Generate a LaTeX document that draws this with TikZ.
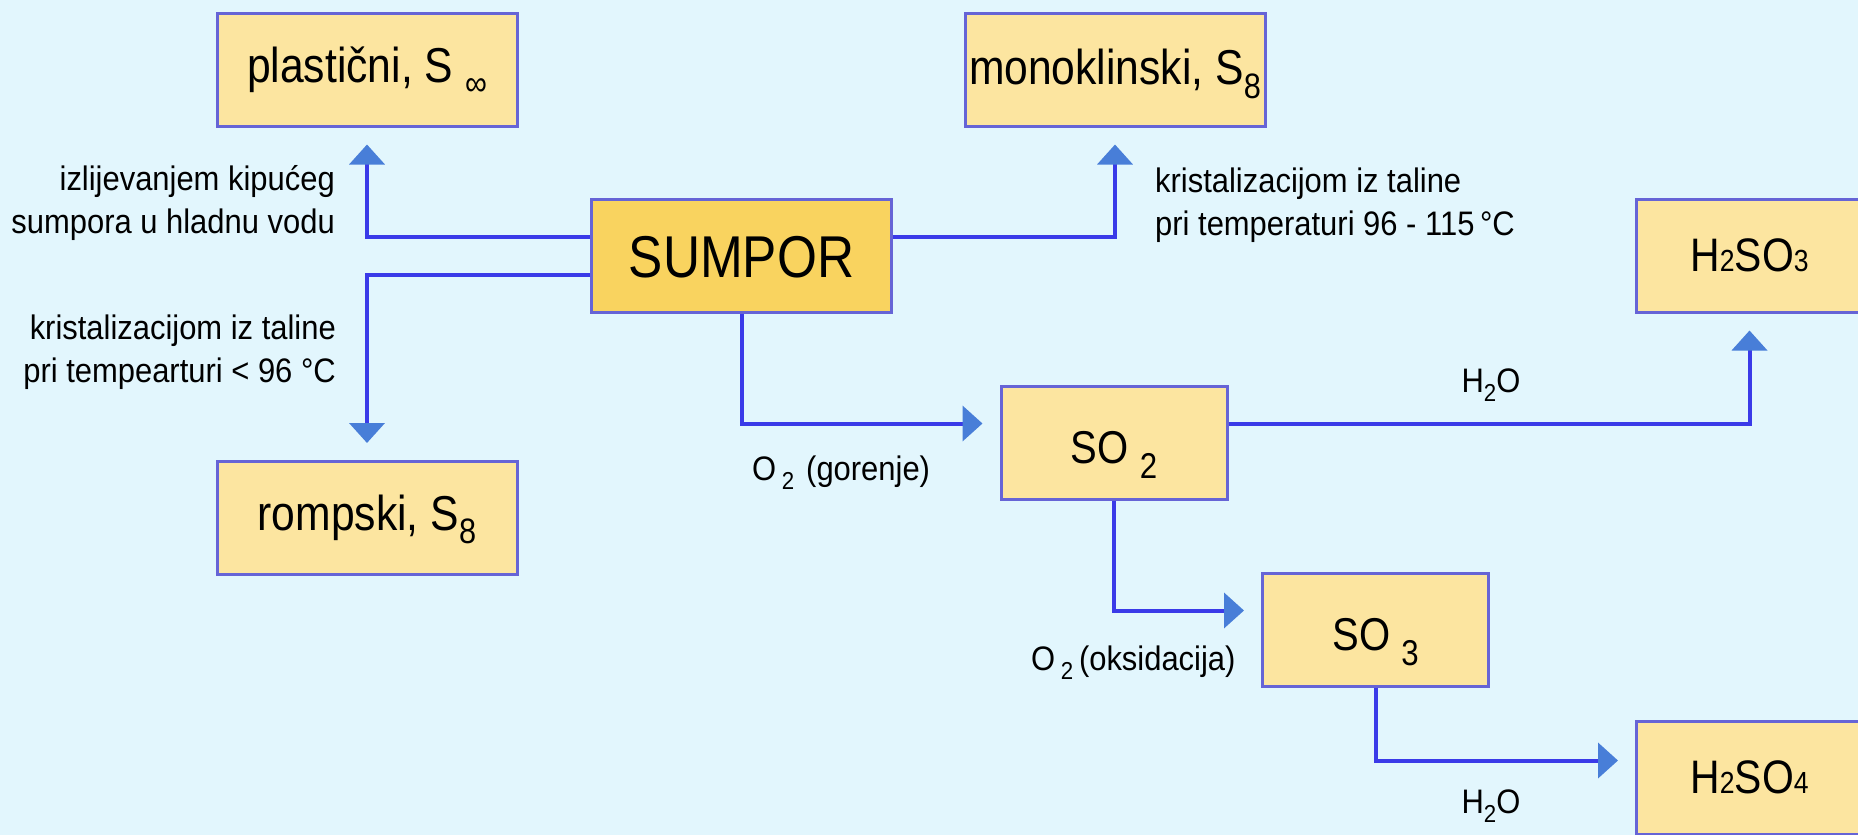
\documentclass[tikz,border=0pt]{standalone}
\usepackage{fontspec}
\setmainfont{Liberation Sans}[FakeStretch=0.87]
\newfontfamily\notefont{Liberation Sans}[FakeStretch=0.91]
\usepackage{graphicx}
\usetikzlibrary{positioning, arrows.meta}

\definecolor{bgcyan}{RGB}{226,246,253}
\definecolor{boxfill}{RGB}{252,229,160}
\definecolor{sumporfill}{RGB}{249,211,95}
\definecolor{boxedge}{RGB}{102,100,214}
\definecolor{linkblue}{RGB}{58,58,232}
\definecolor{tipblue}{RGB}{72,126,216}

\newcommand{\lowidx}[1]{\raisebox{-0.28em}[0pt][0pt]{\scalebox{0.72}{#1}}}
\newcommand{\oxidx}[1]{\raisebox{-0.33em}[0pt][0pt]{\scalebox{0.78}{#1}}}
\newcommand{\smalldigit}[1]{\scalebox{0.65}{#1}}

\begin{document}
\begin{tikzpicture}[x=1pt, y=-1pt,
        box/.style={draw=boxedge, line width=3pt, fill=boxfill, minimum width=300pt, minimum height=113pt, inner sep=0pt, text height=35pt, text depth=10pt, font=\fontsize{49}{58}\selectfont},
        smallbox/.style={box, minimum width=226pt},
        link/.style={draw=linkblue, line width=4pt, shorten >=17pt, -{Triangle[width=35pt, length=20pt, color=tipblue]}},
        note/.style={inner sep=0pt, font=\notefont\fontsize{34}{43}\selectfont}]
        \clip (0,0) rectangle (1858,835);
        \fill[bgcyan] (0,0) rectangle (1858,835);
        % forms of sulphur
        \node[box] (plastic) at (367,69.5) {plastični, S \lowidx{∞}};
        \node[box, text depth=5pt] (monocl) at (1115,69.5) {monoklinski, S\lowidx{8}};
        \node[box, fill=sumporfill, text height=44pt, text depth=0pt, font=\fontsize{59}{70}\selectfont] (sumpor) at (741.5,255.5) {SUMPOR};
        \node[box, text depth=11pt] (rombic) at (367,518) {rompski, S\lowidx{8}};
        % oxides and acids
        \node[smallbox, text height=41pt, text depth=0pt, font=\fontsize{46}{55}\selectfont] (so2) at (1114,442.5) {SO \oxidx{2}};
        \node[smallbox, text height=41pt, text depth=0pt, font=\fontsize{46}{55}\selectfont] (so3) at (1375.5,629.5) {SO \oxidx{3}};
        \node[smallbox, text height=31pt, text depth=0pt, font=\fontsize{47}{56}\selectfont] (h2so3) at (1749.5,255.5) {H\smalldigit{2}SO\smalldigit{3}};
        \node[smallbox, text height=31pt, text depth=0pt, font=\fontsize{47}{56}\selectfont] (h2so4) at (1749.5,777.5) {H\smalldigit{2}SO\smalldigit{4}};
        \draw[link] ([yshift=19pt]sumpor.west) -| (plastic.south);
        \draw[link] ([yshift=-19pt]sumpor.west) -| (rombic.north);
        \draw[link] ([yshift=19pt]sumpor.east) -| (monocl.south);
        \draw[link] (sumpor.south) |- ([yshift=19pt]so2.west);
        \draw[link] ([yshift=19pt]so2.east) -| (h2so3.south);
        \draw[link] (so2.south) |- ([yshift=19pt]so3.west);
        \draw[link] (so3.south) |- ([yshift=17pt]h2so4.west);
        % labels
        \node[note, anchor=base east, align=right] (pourlbl) at (335,233) {izlijevanjem kipućeg\\sumpora u hladnu vodu};
        \node[note, anchor=base east, align=right] (rombiclbl) at (336,382) {kristalizacijom iz taline\\pri tempearturi < 96 °C};
        \node[note, anchor=base west, align=left] (monocllbl) at (1155,235) {kristalizacijom iz taline\\pri temperaturi 96 - 115\,°C};
        \node[note, anchor=base] (waterlbl) at (1491,392) {H\lowidx{2}O};
        \node[note, anchor=base west] (burnlbl) at (752,480) {O\,\lowidx{2}\hspace{0.35em}(gorenje)};
        \node[note, anchor=base west] (oxlbl) at (1031,670) {O\,\lowidx{2}\,(oksidacija)};
        \node[note, anchor=base] (water2lbl) at (1491,813) {H\lowidx{2}O};
    \end{tikzpicture}
\end{document}
